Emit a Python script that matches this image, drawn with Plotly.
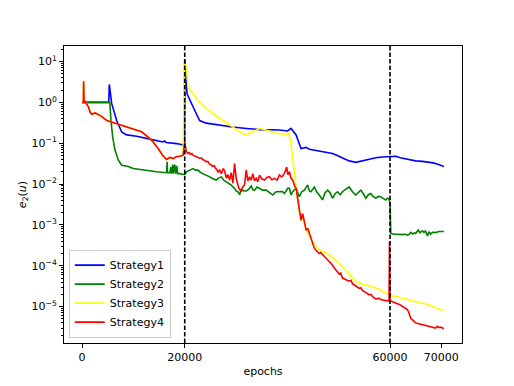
import plotly.graph_objects as go

# epochs / error values
# strategies 1 and 2 share the first stage (flat 1.0 until ~5400)
s1_x = [0, 5200, 5300, 5770, 6740, 7710, 8680, 10620, 13200, 15730, 16100, 16400,
        18390, 19950, 20000, 20450, 21610, 22900, 24200, 26800, 29300, 32000,
        34600, 38450, 40060, 40720, 41700, 42660, 43640, 44280, 45000, 45580,
        46200, 46860, 47800, 48800, 49700, 50740, 52040, 53340, 54300, 55290,
        56200, 57230, 58500, 59810, 60500, 61110, 62000, 63050, 64000, 65000,
        66300, 67580, 68400, 69190, 70490]
s1_y = [1.0, 1.0, 2.75, 0.93, 0.36, 0.19, 0.16, 0.148, 0.126, 0.107, 0.113, 0.104,
        0.098, 0.089, 11.5, 1.62, 0.78, 0.36, 0.31, 0.275, 0.25, 0.23,
        0.215, 0.21, 0.20, 0.23, 0.16, 0.074, 0.079, 0.071, 0.068, 0.066,
        0.064, 0.061, 0.058, 0.056, 0.050, 0.043, 0.037, 0.034, 0.036, 0.039,
        0.042, 0.044, 0.046, 0.047, 0.049, 0.048, 0.044, 0.041, 0.039, 0.037,
        0.036, 0.035, 0.033, 0.031, 0.027]

s2_x = [0, 5400, 5630, 5960, 6410, 7050, 7710, 8990, 9960, 11900, 14500, 16450,
        16570, 16650, 17090, 17300, 17420, 17670, 17800, 18060, 18250, 18450,
        18600, 19030, 19600, 20000, 20330, 21000, 21610, 22100, 22590, 23100,
        23560, 24200, 24860, 25500, 26160, 26600, 27130, 27600, 28100, 28600,
        29070, 29400, 29710, 30000, 30350, 30700, 31010, 31500, 31980, 32500,
        32950, 33300, 33600, 34100, 34570, 35200, 35870, 36500, 37150, 37800,
        38450, 39000, 39420, 40060, 40400, 40720, 41030, 41360, 41700, 42330,
        42800, 43300, 43950, 44300, 44600, 45250, 45700, 46220, 46860, 47300,
        47830, 48300, 48800, 49300, 49780, 50300, 50740, 51400, 52040, 52680,
        53340, 53800, 54310, 54800, 55290, 55800, 56250, 56700, 57230, 57700,
        58200, 58700, 59170, 59500, 59810, 60000, 60150, 60700, 61110, 61700,
        62400, 63000, 63370, 63700, 64030, 64400, 64700, 65000, 65500, 65800,
        66000, 66300, 66600, 66900, 67300, 67580, 67900, 68300, 68880, 69500,
        70490]
s2_y = [1.0, 1.0, 0.36, 0.14, 0.068, 0.039, 0.029, 0.027, 0.024, 0.022, 0.020, 0.019,
        0.035, 0.019, 0.019, 0.026, 0.018, 0.030, 0.018, 0.030, 0.018, 0.028,
        0.018, 0.018, 0.017, 0.017, 0.020, 0.022, 0.024, 0.022, 0.022, 0.019,
        0.018, 0.016, 0.015, 0.0135, 0.0126, 0.014, 0.015, 0.0125, 0.0115, 0.0105,
        0.0095, 0.0085, 0.0079, 0.0068, 0.0065, 0.0055, 0.0074, 0.0068, 0.0068, 0.0075,
        0.0089, 0.0072, 0.0071, 0.0085, 0.0079, 0.0071, 0.0071, 0.0062, 0.0054, 0.0065,
        0.0065, 0.0066, 0.0059, 0.0079, 0.0079, 0.0054, 0.0065, 0.0071, 0.0079, 0.0049,
        0.0065, 0.0071, 0.0095, 0.0068, 0.0065, 0.0085, 0.0065, 0.0054, 0.0041, 0.0060,
        0.0071, 0.0062, 0.0045, 0.0058, 0.0065, 0.0055, 0.0065, 0.0075, 0.0085, 0.0065,
        0.0054, 0.0062, 0.0071, 0.0058, 0.0045, 0.0055, 0.0059, 0.0050, 0.0045, 0.0050,
        0.0049, 0.0044, 0.0041, 0.0045, 0.0043, 0.0034, 6.3e-4, 5.9e-4, 5.8e-4, 5.9e-4,
        5.8e-4, 5.9e-4, 5.6e-4, 5.8e-4, 6.6e-4, 6.0e-4, 6.4e-4, 6.2e-4, 7.5e-4, 6.5e-4,
        6.7e-4, 7.2e-4, 6.6e-4, 7.1e-4, 5.4e-4, 6.8e-4, 6.0e-4, 6.6e-4, 6.5e-4, 6.9e-4,
        6.9e-4]

# strategies 3 and 4 share the first stage (0 - 20000)
early_x = [0, 250, 300, 390, 580, 910, 1220, 1550, 1880, 2520, 3500, 4800, 6080,
           8020, 9960, 11590, 12870, 13850, 14820, 15670, 16450, 17090, 17730,
           18390, 19030, 19670]
early_y = [1.0, 1.0, 3.3, 1.0, 1.05, 0.93, 0.78, 0.58, 0.51, 0.55, 0.48, 0.36, 0.32,
           0.275, 0.23, 0.19, 0.142, 0.107, 0.074, 0.051, 0.040, 0.045, 0.042,
           0.047, 0.048, 0.051]

s3_x = early_x + [20000, 20330, 20640, 21610, 22900, 24200, 25500, 27450, 29380,
                  30680, 31980, 33270, 34570, 35870, 37150, 38450, 39740, 40300,
                  40720, 41030, 41360, 41700, 42000, 42330, 42800, 43300, 43950,
                  44920, 45890, 46860, 47500, 48160, 48800, 49450, 50100, 50740,
                  51400, 52040, 52700, 53340, 54000, 54630, 55300, 55930, 56600,
                  57230, 57900, 58510, 59200, 59810, 60500, 61110, 61700, 62400,
                  63050, 63700, 64300, 65000, 65600, 66280, 66900, 67580, 68200,
                  68880, 69600, 70490]
s3_y = early_y + [8.8, 7.3, 2.4, 1.6, 1.0, 0.70, 0.53, 0.36, 0.25,
                  0.19, 0.16, 0.19, 0.23, 0.21, 0.19, 0.17, 0.166, 0.185,
                  0.09, 0.04, 0.016, 0.007, 0.0041, 0.0019, 0.0016, 0.0011, 6.3e-4,
                  3.9e-4, 2.7e-4, 2.2e-4, 2.1e-4, 1.86e-4, 1.6e-4, 1.41e-4, 1.15e-4, 9.5e-5,
                  7.5e-5, 6.0e-5, 5.0e-5, 4.2e-5, 3.8e-5, 3.5e-5, 3.4e-5, 3.2e-5, 3.05e-5,
                  2.9e-5, 2.7e-5, 2.35e-5, 2.15e-5, 1.95e-5, 1.85e-5, 1.78e-5, 1.7e-5, 1.62e-5,
                  1.55e-5, 1.48e-5, 1.42e-5, 1.35e-5, 1.3e-5, 1.23e-5, 1.18e-5, 1.12e-5, 1.02e-5,
                  9.3e-6, 8.6e-6, 7.9e-6]

s4_x = early_x + [20000, 20300, 20640, 20900, 21100, 21400, 21610, 21900, 22200,
                  22600, 22900, 23200, 23500, 23900, 24200, 24500, 24800, 25200,
                  25500, 25800, 26000, 26250, 26470, 26800, 27130, 27500, 27770,
                  28100, 28400, 28740, 29070, 29380, 29710, 30040, 30300, 30550,
                  31010, 31300, 31650, 31980, 32300, 32620, 32950, 33270, 33600,
                  33920, 34250, 34570, 35000, 35540, 36000, 36510, 37000, 37480,
                  38000, 38450, 38900, 39420, 39870, 40100, 40390, 40700, 41030,
                  41400, 41700, 42000, 42330, 42660, 42980, 43300, 43640, 44000,
                  44280, 44800, 45250, 45700, 46220, 46500, 46860, 47500, 48160,
                  48500, 48800, 49450, 50100, 50400, 50740, 51400, 52040, 52400,
                  52700, 53340, 54000, 54300, 54630, 55300, 55930, 56300, 56600,
                  57230, 57900, 58200, 58510, 59200, 59810, 59900, 60000, 60600,
                  61110, 61700, 62400, 62900, 63370, 63700, 64030, 64500, 65000,
                  65600, 66280, 66900, 67580, 68200, 68880, 69200, 69520, 70000,
                  70490]
s4_y = early_y + [0.105, 0.062, 0.056, 0.059, 0.053, 0.056, 0.051, 0.049, 0.048,
                  0.045, 0.043, 0.044, 0.040, 0.038, 0.035, 0.036, 0.031, 0.029,
                  0.027, 0.028, 0.024, 0.023, 0.020, 0.022, 0.018, 0.024, 0.021,
                  0.014, 0.017, 0.0126, 0.019, 0.0105, 0.032, 0.0135, 0.0095, 0.0079,
                  0.0065, 0.0085, 0.0095, 0.022, 0.012, 0.015, 0.0125, 0.018, 0.012,
                  0.0138, 0.0115, 0.0166, 0.0135, 0.0126, 0.0145, 0.0151, 0.0128, 0.0138,
                  0.0125, 0.0166, 0.0150, 0.0182, 0.026, 0.017, 0.020, 0.014, 0.0126,
                  0.009, 0.0079, 0.0041, 0.0026, 0.0013, 0.0019, 0.0011, 7.6e-4, 8.0e-4,
                  6.3e-4, 4.2e-4, 2.7e-4, 2.3e-4, 2.0e-4, 2.1e-4, 1.86e-4, 1.5e-4, 1.26e-4,
                  1.15e-4, 1.0e-4, 7.9e-5, 6.3e-5, 6.6e-5, 5.0e-5, 4.6e-5, 4.2e-5, 4.4e-5,
                  3.6e-5, 3.2e-5, 2.8e-5, 2.9e-5, 2.5e-5, 2.2e-5, 1.95e-5, 2.0e-5, 1.75e-5,
                  1.55e-5, 1.6e-5, 1.5e-5, 1.48e-5, 1.42e-5, 1.35e-5, 3.9e-4, 1.4e-5, 1.3e-5,
                  1.23e-5, 1.15e-5, 1.02e-5, 9.5e-6, 8.5e-6, 7.0e-6, 5.2e-6, 4.6e-6, 4.0e-6,
                  3.8e-6, 3.6e-6, 3.5e-6, 3.3e-6, 3.2e-6, 3.0e-6, 3.3e-6, 3.1e-6, 3.1e-6,
                  2.9e-6]

names = ["Strategy1", "Strategy2", "Strategy3", "Strategy4"]
colors = ["blue", "green", "yellow", "red"]
switch_epochs = [20000, 60000]

x_ticks = [0, 20000, 60000, 70000]
y_ticks = [10, 1, 0.1, 0.01, 1e-3, 1e-4, 1e-5]
y_ticklabels = ["10<sup>1</sup>", "10<sup>0</sup>", "10<sup>\u22121</sup>",
                "10<sup>\u22122</sup>", "10<sup>\u22123</sup>",
                "10<sup>\u22124</sup>", "10<sup>\u22125</sup>"]

fig = go.Figure()
for xs, ys, name, color in zip([s1_x, s2_x, s3_x, s4_x], [s1_y, s2_y, s3_y, s4_y],
                               names, colors):
    fig.add_trace(go.Scatter(x=xs, y=ys, mode="lines", name=name,
                             line=dict(color=color, width=1.6)))

for ep in switch_epochs:
    fig.add_vline(x=ep, line=dict(color="black", width=1.6, dash="4.5px,2px"),
                  layer="above")

minor_vals = [m * 10.0 ** e for e in range(-7, 2) for m in range(2, 10)]

fig.update_layout(
    width=514, height=386,
    margin=dict(l=64, r=52, t=46, b=43),
    paper_bgcolor="white", plot_bgcolor="white",
    font=dict(family="DejaVu Sans", size=11, color="black"),
    showlegend=True,
    legend=dict(x=0.012, y=0.018, xanchor="left", yanchor="bottom",
                bordercolor="#cccccc", borderwidth=1, bgcolor="rgba(255,255,255,0.8)",
                font=dict(size=11), itemwidth=30, tracegroupgap=0),
    xaxis=dict(range=[-3525, 74025], tickvals=x_ticks,
               ticktext=[str(v) for v in x_ticks], automargin=False,
               showgrid=False, zeroline=False, showline=True, linecolor="black",
               linewidth=1, mirror=True, ticks="outside", ticklen=4,
               tickcolor="black",
               title=dict(text="epochs", standoff=4, font=dict(size=11))),
    yaxis=dict(type="log", range=[-5.89, 1.38], tickvals=y_ticks,
               ticktext=y_ticklabels, automargin=False,
               showgrid=False, zeroline=False, showline=True, linecolor="black",
               linewidth=1, mirror=True, ticks="outside", ticklen=4,
               tickcolor="black",
               minor=dict(tickvals=minor_vals, ticks="outside", ticklen=2,
                          tickcolor="black", showgrid=False),
               title=dict(text="<i>e</i><sub>2</sub>(<i>u</i>)", standoff=2,
                          font=dict(size=11))),
)

# page body has a default 8px margin; drop it so the figure sits at the corner
fig.write_html("out.html", config={"displayModeBar": False},
               post_script="document.body.style.margin='0';")
